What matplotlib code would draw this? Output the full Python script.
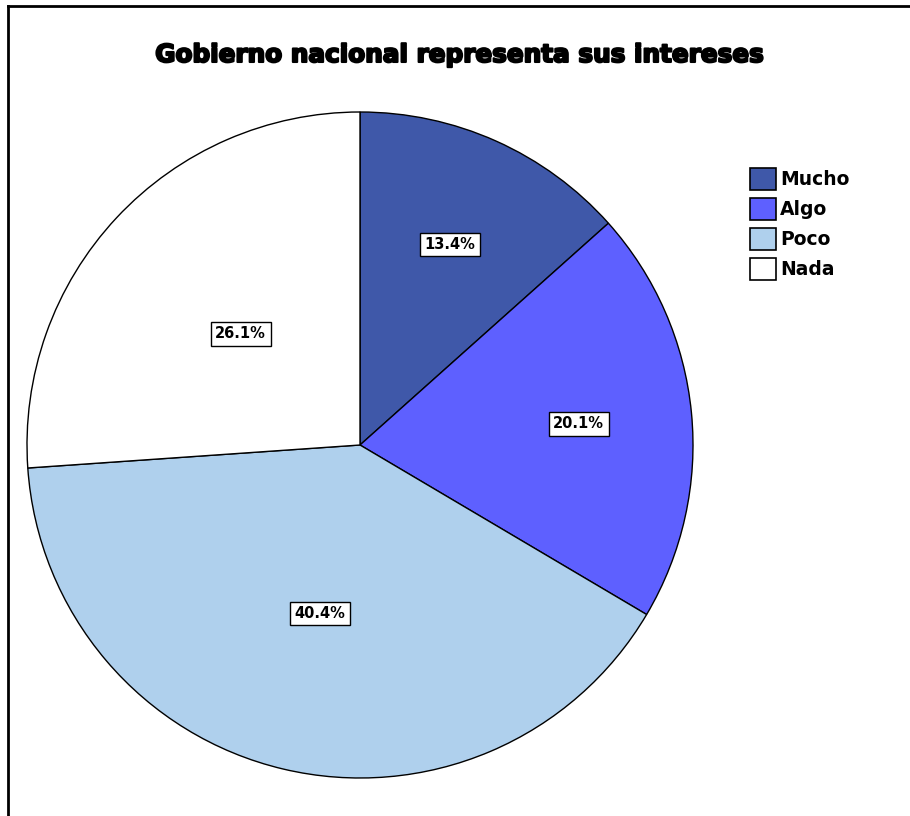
import matplotlib.pyplot as plt
import matplotlib.patheffects as pe
from matplotlib.lines import Line2D
import numpy as np

# data
categories = ["Mucho", "Algo", "Poco", "Nada"]
percents = [13.4, 20.1, 40.4, 26.1]
colors = ["#3f58a9", "#5e60ff", "#afd0ed", "#ffffff"]
label_radius = [0.66, 0.66, 0.52, 0.49]  # where SPSS put each label, as fraction of radius

W, H = 910, 816
fig = plt.figure(figsize=(W / 100, H / 100), dpi=100)
ax = fig.add_axes([0, 0, 1, 1])

cx, cy, r = 360, H - 445, 333
wedges, _ = ax.pie(percents, colors=colors, startangle=90, counterclock=False,
                   center=(cx, cy), radius=r, frame=True,
                   wedgeprops=dict(edgecolor="black", linewidth=1))
ax.set_xlim(0, W)
ax.set_ylim(0, H)
ax.set_aspect("equal")
ax.axis("off")

for w, p, f in zip(wedges, percents, label_radius):
    ang = np.deg2rad((w.theta1 + w.theta2) / 2)
    x = cx + f * r * np.cos(ang)
    y = cy + f * r * np.sin(ang)
    ax.text(x, y, f"{p:.1f}%", ha="center", va="center", fontsize=10.5, fontweight="bold",
            bbox=dict(boxstyle="square,pad=0.3", facecolor="white", edgecolor="black", linewidth=1))

fig.text(461 / W, 1 - 55 / H, "Gobierno nacional representa sus intereses",
         ha="center", va="center", fontsize=17.8, fontweight="heavy",
         path_effects=[pe.withStroke(linewidth=1.5, foreground="black")])

leg = ax.legend(wedges, categories, loc="upper left", bbox_to_anchor=(733 / W, 1 - 151 / H),
                frameon=False, handlelength=1.4, handleheight=1.4, handletextpad=0.2,
                labelspacing=0.45, prop=dict(weight="bold", size=13.5))
for h in leg.legend_handles:
    h.set_linewidth(1.2)

# frame lines on the left and top only, as in the reference
fig.add_artist(Line2D([8 / W, 8 / W], [0, 1 - 6 / H], color="black", linewidth=2))
fig.add_artist(Line2D([8 / W, 1], [1 - 6 / H, 1 - 6 / H], color="black", linewidth=2))

fig.savefig("out.png", dpi=100)
